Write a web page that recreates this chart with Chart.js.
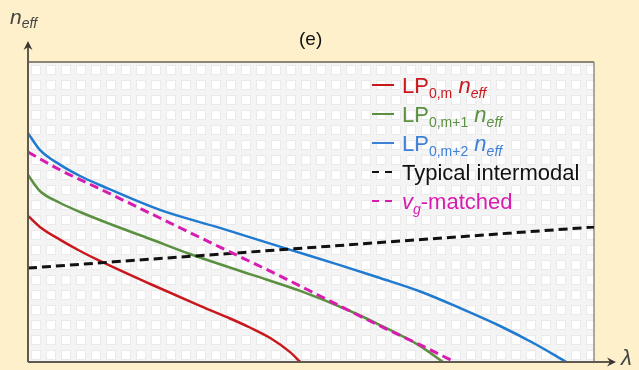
<!DOCTYPE html>
<html><head><meta charset="utf-8">
<script src="https://cdn.jsdelivr.net/npm/chart.js@4/dist/chart.umd.min.js"></script>
<style>
html,body{margin:0;padding:0;background:#fef0cb;}
#wrap{position:relative;width:639px;height:370px;background:#fef0cb;font-family:"Liberation Sans",Arial,sans-serif;overflow:hidden;}
canvas{position:absolute;left:0;top:0;}
.lbl{position:absolute;white-space:nowrap;line-height:1;}
.it{font-style:italic;}
.row{position:absolute;left:372px;white-space:nowrap;font-size:22px;line-height:22px;height:22px;}
.row sub{font-size:14px;vertical-align:-5px;line-height:0;}
.sw{display:inline-block;width:22px;height:2px;vertical-align:middle;margin-right:8px;position:relative;top:-2px;}
.dsw{display:inline-block;width:22px;height:2px;vertical-align:middle;margin-right:8px;position:relative;top:-2px;}
.dsw i{display:inline-block;width:7px;height:2px;margin-right:6px;vertical-align:top;}
</style></head><body>
<div id="wrap">
<canvas id="c" width="639" height="370"></canvas>
<div class="lbl it" style="left:10px;top:6px;font-size:21px;color:#444;">n<sub style="font-size:14px;vertical-align:-4px;">eff</sub></div>
<div class="lbl" style="left:299px;top:29px;font-size:19px;color:#111;">(e)</div>
<div class="lbl it" style="left:621px;top:347px;font-size:22px;color:#444;">λ</div>
<div class="row" style="top:75px;color:#c8181e;"><span class="sw" style="background:#c8181e"></span>LP<sub>0,m</sub> <span class="it">n<sub>eff</sub></span></div>
<div class="row" style="top:104px;color:#5a9040;"><span class="sw" style="background:#5a9040"></span>LP<sub>0,m+1</sub> <span class="it">n<sub>eff</sub></span></div>
<div class="row" style="top:133px;color:#3d80d8;"><span class="sw" style="background:#3d80d8"></span>LP<sub>0,m+2</sub> <span class="it">n<sub>eff</sub></span></div>
<div class="row" style="top:162px;color:#111;"><span class="dsw"><i style="background:#111"></i><i style="background:#111"></i></span>Typical intermodal</div>
<div class="row" style="top:191px;color:#d81cb0;"><span class="dsw"><i style="background:#d81cb0"></i><i style="background:#d81cb0"></i></span><span class="it">v<sub>g</sub></span>-matched</div>
</div>
<script>
// wavelength (arbitrary units, 0-100) and effective index (arbitrary units, 0-100)
const lp0mX   = [0, 2.1, 5.7, 9.2, 12.7, 21.6, 30.4, 35.7, 39.2, 42.8, 46.3, 48.1];
const lp0mY   = [48.7, 45, 40.7, 37, 33.7, 26, 18.7, 14.5, 11.5, 8, 3.3, 0];
const lp0m1X  = [0, 2.1, 5.7, 9.2, 14.5, 21.6, 28.6, 39.2, 48.1, 56.9, 62.2, 69.3, 73.3];
const lp0m1Y  = [62.3, 57, 53, 50, 46, 41, 36, 29.3, 23.7, 17, 12.3, 5.3, 0];
const lp0m2X  = [0, 2.1, 5.7, 9.2, 12.7, 23.3, 33.9, 45.8, 55.1, 62.2, 69.3, 76.3, 83.4, 89.6, 95.1];
const lp0m2Y  = [76.3, 70.7, 65.7, 62, 59, 50.7, 44.7, 37.7, 32.3, 28, 23.5, 18, 12, 6, 0];
const interX  = [0, 100];
const interY  = [31.3, 45];
const vgX     = [0, 5.7, 12.7, 23.3, 33.9, 44.5, 51.6, 62.2, 69.3, 75.4];
const vgY     = [70, 64, 57.7, 48, 38.3, 28.7, 22, 12, 5.7, 0];

const pts = (xs, ys) => xs.map((x, i) => ({x, y: ys[i]}));

const gridPlugin = {
  id: 'paper',
  beforeDraw(chart) {
    const {ctx, chartArea: a} = chart;
    const t = document.createElement('canvas');
    t.width = 15; t.height = 15;
    const tc = t.getContext('2d');
    tc.fillStyle = '#f4f4f4'; tc.fillRect(0, 0, 15, 15);
    tc.strokeStyle = '#eaeaea'; tc.lineWidth = 1; tc.strokeRect(3.5, 3.5, 9, 9);
    tc.fillStyle = '#ffffff'; tc.fillRect(4, 4, 8, 8);
    const p = ctx.createPattern(t, 'repeat');
    ctx.save();
    ctx.translate(a.left, a.top);
    ctx.fillStyle = p;
    ctx.fillRect(0, 0, a.right - a.left, a.bottom - a.top);
    ctx.restore();
  },
  beforeDatasetsDraw(chart) {
    const {ctx, chartArea: a} = chart;
    ctx.save();
    ctx.strokeStyle = '#8c8473'; ctx.lineWidth = 2;
    ctx.beginPath(); ctx.moveTo(a.left, a.top); ctx.lineTo(a.right, a.top); ctx.stroke();
    ctx.strokeStyle = '#8e8e8e'; ctx.lineWidth = 1.5;
    ctx.beginPath(); ctx.moveTo(a.right, a.top); ctx.lineTo(a.right, a.bottom); ctx.stroke();
    ctx.restore();
  },
  afterDatasetsDraw(chart) {
    const {ctx, chartArea: a} = chart;
    ctx.save();
    ctx.strokeStyle = '#5f5a50'; ctx.fillStyle = '#3a3630'; ctx.lineWidth = 2;
    ctx.beginPath(); ctx.moveTo(a.left, a.bottom); ctx.lineTo(a.left, 46); ctx.stroke();
    ctx.beginPath(); ctx.moveTo(a.left, 41); ctx.lineTo(a.left - 4.5, 50); ctx.lineTo(a.left, 47); ctx.lineTo(a.left + 4.5, 50); ctx.closePath(); ctx.fill();
    ctx.beginPath(); ctx.moveTo(a.left, a.bottom); ctx.lineTo(611, a.bottom); ctx.stroke();
    ctx.beginPath(); ctx.moveTo(616, a.bottom); ctx.lineTo(607, a.bottom - 4.5); ctx.lineTo(610, a.bottom); ctx.lineTo(607, a.bottom + 4.5); ctx.closePath(); ctx.fill();
    ctx.restore();
  }
};

const base = {showLine: true, pointRadius: 0, borderWidth: 2.5, fill: false, cubicInterpolationMode: 'monotone'};

new Chart(document.getElementById('c'), {
  type: 'scatter',
  data: {
    datasets: [
      {...base, label: 'LP0,m neff', data: pts(lp0mX, lp0mY), borderColor: '#c8181e', order: 4},
      {...base, label: 'LP0,m+1 neff', data: pts(lp0m1X, lp0m1Y), borderColor: '#5a9040', order: 3},
      {...base, label: 'LP0,m+2 neff', data: pts(lp0m2X, lp0m2Y), borderColor: '#1f7ad0', order: 2},
      {...base, label: 'Typical intermodal', data: pts(interX, interY), borderColor: '#111111', borderDash: [9, 5], borderWidth: 3, order: 1},
      {...base, label: 'vg-matched', data: pts(vgX, vgY), borderColor: '#d81cb0', borderDash: [9, 5], borderWidth: 3, order: 0}
    ]
  },
  options: {
    responsive: false,
    animation: false,
    layout: {padding: {left: 28, right: 45, top: 62, bottom: 8}},
    plugins: {legend: {display: false}, tooltip: {enabled: false}, title: {display: false}},
    scales: {
      x: {type: 'linear', min: 0, max: 100, display: false},
      y: {type: 'linear', min: 0, max: 100, display: false}
    }
  },
  plugins: [gridPlugin]
});
</script>
</body></html>
